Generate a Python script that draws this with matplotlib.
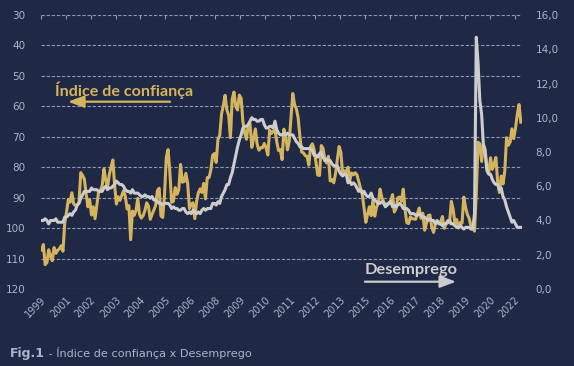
import matplotlib
matplotlib.use("Agg")
import matplotlib.pyplot as plt
import numpy as np

# ---------------------------
# Data (monthly, first point = Dec 1999)
# ---------------------------
# confidence index (left axis, inverted)
confianca = [
    107.2, 105.4,
    112.0, 111.3, 107.1, 109.2, 110.7, 106.4, 108.3, 107.3, 106.8, 105.8, 107.6, 98.4,
    94.7, 90.6, 91.5, 88.4, 92.0, 92.6, 92.4, 91.5, 81.8, 82.7, 83.9, 88.8,
    93.0, 90.7, 95.7, 93.0, 96.9, 92.4, 88.1, 87.6, 86.1, 80.6, 84.2, 86.7,
    82.4, 79.9, 77.6, 86.0, 92.1, 89.7, 90.9, 89.3, 87.7, 89.6, 93.7, 92.6,
    103.8, 94.4, 95.8, 94.2, 90.2, 95.6, 96.7, 95.9, 94.2, 91.7, 92.8, 97.1,
    95.5, 94.1, 92.6, 87.7, 86.9, 96.0, 96.5, 89.1, 76.9, 74.2, 81.6, 91.5,
    91.2, 86.7, 88.9, 87.4, 79.1, 84.9, 84.7, 82.0, 85.4, 93.6, 92.1, 91.7,
    96.9, 91.3, 88.4, 87.1, 88.3, 85.3, 90.4, 83.4, 83.4, 80.9, 76.1, 75.5,
    78.4, 70.8, 69.5, 62.6, 59.8, 56.4, 61.2, 63.0, 70.3, 57.6, 55.3, 60.1,
    61.2, 56.3, 57.3, 65.1, 68.7, 70.8, 66.0, 65.7, 73.5, 70.6, 67.4, 72.5,
    74.4, 73.6, 73.6, 72.2, 73.6, 76.0, 67.8, 68.9, 68.2, 67.7, 71.6, 74.5,
    74.2, 77.5, 67.5, 69.8, 74.3, 71.5, 63.7, 55.8, 59.5, 60.8, 63.7, 69.9,
    75.0, 75.3, 76.2, 76.4, 79.3, 73.2, 72.3, 74.3, 78.3, 82.6, 82.7, 72.9,
    73.8, 77.6, 78.6, 76.4, 84.5, 84.1, 85.1, 82.1, 77.5, 73.2, 75.1, 82.5,
    81.2, 81.6, 80.0, 84.1, 81.9, 82.5, 81.8, 82.5, 84.6, 86.9, 88.8, 93.6,
    98.1, 95.4, 93.0, 95.9, 90.7, 96.1, 93.1, 91.9, 87.2, 90.0, 91.3, 92.6,
    92.0, 91.7, 91.0, 89.0, 94.7, 93.5, 90.0, 89.8, 91.2, 87.2, 93.8, 98.2,
    98.5, 96.3, 96.9, 97.0, 97.1, 95.1, 93.4, 96.8, 95.1, 100.7, 98.5, 95.9,
    95.7, 99.7, 101.4, 98.8, 98.0, 98.2, 97.9, 96.2, 100.1, 98.6, 97.5, 98.3,
    91.2, 93.8, 98.4, 97.2, 100.0, 98.2, 98.4, 89.8, 93.2, 95.5, 96.8, 99.3,
    99.8, 101.0, 89.1, 71.8, 72.3, 78.1, 72.5, 74.1, 80.4, 81.8, 76.9, 80.7,
    79.0, 76.8, 84.9, 88.3, 82.9, 85.5, 81.2, 70.3, 72.8, 71.7, 67.4, 70.6,
    67.2, 62.8, 59.4, 65.2,
]

# unemployment (right axis, %)
desemprego = [
    4.0,
    4.0, 4.1, 4.0, 3.8, 4.0, 4.0, 4.0, 4.1, 3.9, 3.9, 3.9, 3.9,
    4.2, 4.2, 4.3, 4.4, 4.3, 4.5, 4.6, 4.9, 5.0, 5.3, 5.5, 5.7,
    5.7, 5.7, 5.7, 5.9, 5.8, 5.8, 5.8, 5.7, 5.7, 5.7, 5.9, 6.0,
    5.8, 5.9, 5.9, 6.0, 6.1, 6.3, 6.2, 6.1, 6.1, 6.0, 5.8, 5.7,
    5.7, 5.6, 5.8, 5.6, 5.6, 5.6, 5.5, 5.4, 5.4, 5.5, 5.4, 5.4,
    5.3, 5.4, 5.2, 5.2, 5.1, 5.0, 5.0, 4.9, 5.0, 5.0, 5.0, 4.9,
    4.7, 4.8, 4.7, 4.7, 4.6, 4.6, 4.7, 4.7, 4.5, 4.4, 4.5, 4.4,
    4.6, 4.5, 4.4, 4.5, 4.4, 4.6, 4.7, 4.6, 4.7, 4.7, 4.7, 5.0,
    5.0, 4.9, 5.1, 5.0, 5.4, 5.6, 5.8, 6.1, 6.1, 6.5, 6.8, 7.3,
    7.8, 8.3, 8.7, 9.0, 9.4, 9.5, 9.5, 9.6, 9.8, 10.0, 9.9, 9.9,
    9.8, 9.8, 9.9, 9.9, 9.6, 9.4, 9.4, 9.5, 9.5, 9.4, 9.8, 9.3,
    9.1, 9.0, 9.0, 9.1, 9.0, 9.1, 9.0, 9.0, 9.0, 8.8, 8.6, 8.5,
    8.3, 8.3, 8.2, 8.2, 8.2, 8.2, 8.2, 8.1, 7.8, 7.8, 7.7, 7.9,
    8.0, 7.7, 7.5, 7.6, 7.5, 7.5, 7.3, 7.2, 7.2, 7.2, 6.9, 6.7,
    6.6, 6.7, 6.7, 6.2, 6.3, 6.1, 6.2, 6.1, 5.9, 5.7, 5.8, 5.6,
    5.7, 5.5, 5.4, 5.4, 5.6, 5.3, 5.2, 5.1, 5.0, 5.0, 5.1, 5.0,
    4.8, 4.9, 5.0, 5.1, 4.8, 4.9, 4.8, 4.9, 5.0, 4.9, 4.7, 4.7,
    4.7, 4.6, 4.4, 4.4, 4.4, 4.3, 4.3, 4.4, 4.3, 4.2, 4.2, 4.1,
    4.0, 4.1, 4.0, 4.0, 3.8, 4.0, 3.8, 3.8, 3.7, 3.8, 3.8, 3.9,
    4.0, 3.8, 3.8, 3.7, 3.6, 3.6, 3.7, 3.6, 3.5, 3.6, 3.6, 3.6,
    3.5, 3.5, 4.4, 14.7, 13.2, 11.0, 10.2, 8.4, 7.9, 6.9, 6.7, 6.7,
    6.4, 6.2, 6.1, 6.1, 5.8, 5.9, 5.4, 5.2, 4.8, 4.5, 4.2, 3.9,
    4.0, 3.8, 3.6, 3.6, 3.6,
]

# one label every 14 months
x_labels = ["1999", "2001", "2002", "2003", "2004", "2005", "2006", "2008",
            "2009", "2010", "2011", "2012", "2013", "2015", "2016", "2017",
            "2018", "2019", "2020", "2022"]
label_step = 14

left_ticks = [30, 40, 50, 60, 70, 80, 90, 100, 110, 120]
right_ticks = [0, 2, 4, 6, 8, 10, 12, 14, 16]

# ---------------------------
# Style
# ---------------------------
BG = "#1f2845"
GOLD = "#d4b45e"
LIGHT = "#cdcdcd"
TXT = "#a9b5cc"
GRID = "#8e9ab3"

fig = plt.figure(figsize=(5.74, 3.66), dpi=100, facecolor=BG)
ax = fig.add_axes([0.0709, 0.2104, 0.838, 0.7486])
ax.set_facecolor(BG)

n = len(desemprego)
x = np.arange(n)

ax.plot(x, confianca, color=GOLD, lw=2.2, solid_joinstyle="round", zorder=3)
ax.set_ylim(120, 30)
ax.set_yticks(left_ticks)
ax.set_xlim(-0.5, n - 0.5)

tick_pos = [-0.5 + label_step * k for k in range(len(x_labels))]
ax.set_xticks(tick_pos)
ax.set_xticklabels(x_labels, rotation=45, ha="right", va="top",
                   rotation_mode="anchor", color=TXT, fontsize=7)
ax.tick_params(axis="x", top=True, bottom=False, labeltop=False,
               labelbottom=True, direction="in", length=3, width=0.8,
               color=GRID, pad=4)
ax.tick_params(axis="y", length=0, pad=11, labelcolor=TXT, labelsize=7.5)

ax.grid(axis="y", color=GRID, lw=0.8, linestyle=(0, (3, 1.6)))
for s in ax.spines.values():
    s.set_visible(False)

ax2 = ax.twinx()
ax2.plot(x, desemprego, color=LIGHT, lw=2.2, solid_joinstyle="round", zorder=3)
ax2.set_ylim(0, 16)
ax2.set_yticks(right_ticks)
ax2.set_yticklabels([f"{v:.1f}".replace(".", ",") for v in right_ticks])
ax2.tick_params(axis="y", length=0, pad=10, labelcolor=TXT, labelsize=7.5)
for s in ax2.spines.values():
    s.set_visible(False)

# annotations
ax2.text(0.0297, 0.7055, "Índice de confiança", transform=ax.transAxes,
         color=GOLD, fontsize=11.6, fontweight="bold", family="Lato",
         va="baseline", ha="left")
ax2.annotate("", xy=(0.0568, 0.6836), xytext=(0.269, 0.6836),
             xycoords=ax.transAxes, textcoords=ax.transAxes,
             arrowprops=dict(arrowstyle="-|>,head_length=0.8,head_width=0.3",
                             color=GOLD, lw=1.6, mutation_scale=12,
                             shrinkA=0, shrinkB=0))
ax2.text(0.674, 0.0536, "Desemprego", transform=ax.transAxes,
         color=LIGHT, fontsize=11.8, fontweight="bold", family="Lato",
         va="baseline", ha="left")
ax2.annotate("", xy=(0.8635, 0.0266), xytext=(0.674, 0.0266),
             xycoords=ax.transAxes, textcoords=ax.transAxes,
             arrowprops=dict(arrowstyle="-|>,head_length=0.8,head_width=0.3",
                             color=LIGHT, lw=1.6, mutation_scale=12,
                             shrinkA=0, shrinkB=0))

# caption
t1 = fig.text(0.0174, 0.0254, "Fig.1", color=TXT, fontsize=9,
              fontweight="bold", va="baseline", ha="left")
fig.canvas.draw()
bb = t1.get_window_extent()
fig.text(bb.x1 / fig.bbox.width, 0.0254, " - Índice de confiança x Desemprego",
         color=TXT, fontsize=8.1, va="baseline", ha="left")

fig.savefig("out.png", dpi=100, facecolor=BG)
